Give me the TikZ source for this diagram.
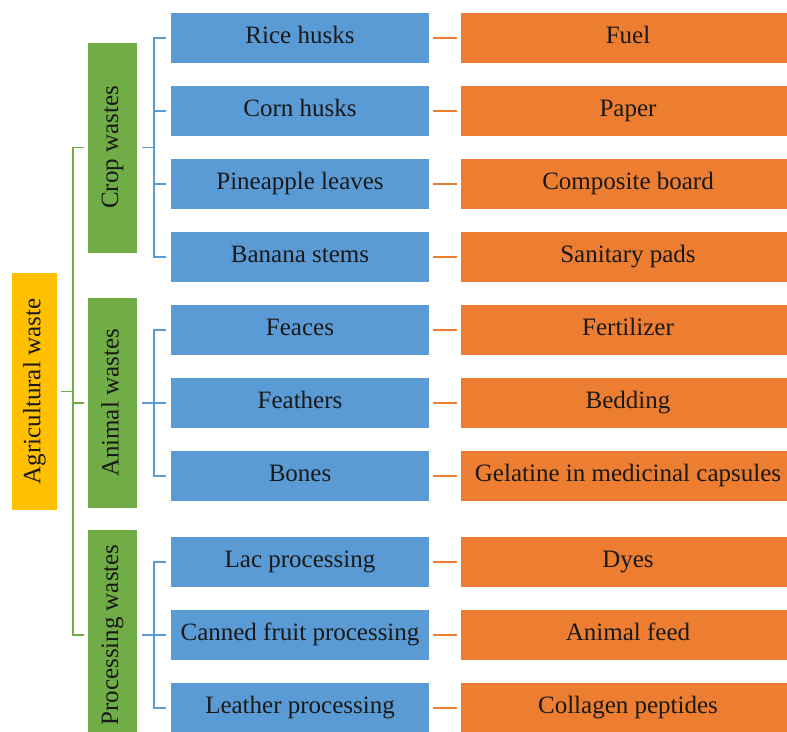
\documentclass[tikz,border=0pt]{standalone}
\usepackage{fontspec}
\setmainfont{Liberation Serif}
\usetikzlibrary{positioning,calc}

\definecolor{wblue}{HTML}{5B9BD5}
\definecolor{worange}{HTML}{ED7D31}
\definecolor{wgreen}{HTML}{70AD47}
\definecolor{wyellow}{HTML}{FFC000}

\newcommand{\uptext}[1]{\rotatebox{90}{\vphantom{Apg}#1}}

\begin{document}
\begin{tikzpicture}[x=1pt,y=-1pt,node distance=73pt,on grid,line width=1.8pt,
  box/.style={rectangle,inner sep=0pt,text=black!90,font=\fontsize{25}{30}\selectfont},
  src node/.style={box,fill=wblue,minimum width=258pt,minimum height=50pt,
    text height=17pt,text depth=5.5pt},
  use node/.style={box,fill=worange,minimum width=334pt,minimum height=50pt,
    text height=17pt,text depth=5.5pt},
  cat node/.style={box,fill=wgreen,minimum width=49pt,minimum height=210pt},
  root node/.style={box,fill=wyellow,minimum width=45pt,minimum height=237pt},
  glink/.style={draw=wgreen},
  blink/.style={draw=wblue},
  olink/.style={draw=worange,shorten >=3pt,shorten <=3pt}]
\useasboundingbox (0,0) rectangle (787,731);
\clip (0,0) rectangle (787,731);

% what the waste is
\node[src node](s1) at (300,38) {Rice husks};
\node[src node](s2)[below=of s1]{Corn husks};
\node[src node](s3)[below=of s2]{Pineapple leaves};
\node[src node](s4)[below=of s3]{Banana stems};
\node[src node](s5)[below=of s4]{Feaces};
\node[src node](s6)[below=of s5]{Feathers};
\node[src node](s7)[below=of s6]{Bones};
\node[src node](s8)[below=86pt of s7]{Lac processing};
\node[src node](s9)[below=of s8]{Canned fruit processing};
\node[src node](s10)[below=of s9]{Leather processing};

% what it becomes
\foreach \i/\txt in {1/Fuel,2/Paper,3/Composite board,4/Sanitary pads,
  5/Fertilizer,6/Bedding,7/Gelatine in medicinal capsules,8/Dyes,
  9/Animal feed,10/Collagen peptides}
  \node[use node](u\i)[right=328pt of s\i]{\txt};

\node[cat node](crop) at ($(s1.west)!.5!(s4.west)+(-57.5,0)$) {\uptext{Crop wastes}};
\node[cat node](animal) at ($(s5.west)!.5!(s7.west)+(-57.5,0)$) {\uptext{Animal wastes}};
\node[cat node](proc) at ($(s8.west)!.5!(s10.west)+(-57.5,0)$) {\uptext{Processing wastes}};
\node[root node](agri) at (34.5,391.5) {\uptext{Agricultural waste}};

% green tree
\coordinate (gx) at (73,391.5);
\path (agri.east) edge[glink,shorten <=3pt] (gx);
\draw[glink,line cap=rect] (gx |- crop.west) -- (gx |- proc.west);
\foreach \c in {crop,animal,proc}
  \draw[glink,shorten >=3pt] (gx |- \c.west) -- (\c.west);

% blue trees
\coordinate (bx) at (154,0);
\foreach \c/\a/\b in {crop/1/4,animal/5/7,proc/8/10}{
  \draw[blink,shorten <=4pt] (\c.east) -- (bx |- \c.east);
  \draw[blink,line cap=rect] (bx |- s\a) -- (bx |- s\b);
}
\foreach \i in {1,...,10}
  \draw[blink,shorten >=4pt] (bx |- s\i) -- (s\i.west);

% orange links
\foreach \i in {1,...,10}
  \path (s\i) edge[olink] (u\i);

\end{tikzpicture}
\end{document}
